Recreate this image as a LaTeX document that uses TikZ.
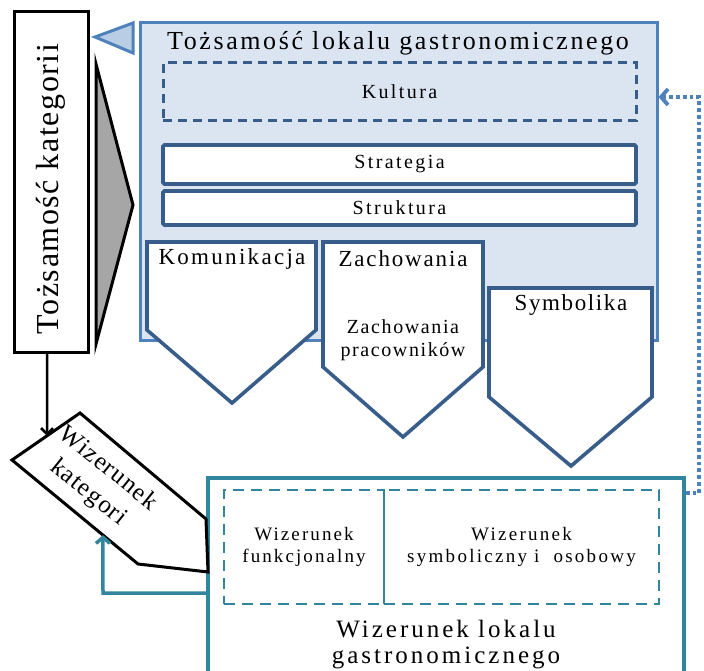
\documentclass[tikz,border=0pt]{standalone}
\usepackage{fontspec}
\setmainfont{Liberation Serif}
\usetikzlibrary{arrows.meta,calc}
\definecolor{lightfill}{HTML}{DBE5F1}
\definecolor{midblue}{HTML}{4F81BD}
\definecolor{darkblue}{HTML}{385D8A}
\definecolor{tealc}{HTML}{31859C}
\definecolor{grayfill}{HTML}{A6A6A6}
\definecolor{trifill}{HTML}{B9CDE5}
\newcommand{\fs}[3]{\fontsize{#1}{#2}\selectfont\addfontfeatures{LetterSpace=#3}}
\begin{document}
\begin{tikzpicture}[x=1pt,y=-1pt,
  blackbox/.style={draw=black,line width=3pt,fill=white,inner sep=0pt},
  bigbox/.style={draw=midblue,line width=3pt,fill=lightfill,inner sep=0pt},
  bar/.style={draw=darkblue,line width=3.6pt,fill=white,rounded corners=1.5pt,inner sep=0pt},
  dashbox/.style={draw=darkblue,line width=3pt,dash pattern=on 9pt off 6pt,inner sep=0pt},
  tealbox/.style={draw=tealc,line width=3.6pt,inner sep=0pt},
  tealdash/.style={draw=tealc,line width=2.5pt,dash pattern=on 11pt off 7pt,inner sep=0pt},
  penta/.style={draw=darkblue,line width=3.6pt,fill=white,line join=miter},
  lbl/.style={inner sep=0pt,align=center},
]
\useasboundingbox (0,0) rectangle (704,671);

% left vertical box
\node[blackbox,minimum width=74pt,minimum height=340pt] (tk) at (51,182) {};
\node[lbl,rotate=90,font=\fs{32}{36}{5}] (tkt) at (51,189) {Tożsamość kategorii};

% gray triangle and small blue triangle
\draw[fill=grayfill,draw=black,line width=3pt,line join=miter] (96,64) -- (133,205) -- (96,344) -- cycle;
\draw[fill=trifill,draw=midblue,line width=3pt,line join=miter] (95,37) -- (133,23) -- (133,53) -- cycle;

% big identity box
\node[bigbox,minimum width=517pt,minimum height=317pt] (tl) at (398.5,181.5) {};
\node[lbl,font=\fs{26}{30}{10}] (tlt) at (398,43) {Tożsamość lokalu gastronomicznego};

\node[dashbox,minimum width=473pt,minimum height=58pt] (ku) at (399.5,92) {};
\node[lbl,font=\fs{20}{24}{12}] (kut) at (ku.center) {Kultura};

\node[bar,minimum width=473pt,minimum height=39pt] (st) at (399.5,164.5) {};
\node[lbl,font=\fs{20}{24}{12}] (stt) at (st.center) {Strategia};
\node[bar,minimum width=473pt,minimum height=34pt] (sk) at (399.5,208) {};
\node[lbl,font=\fs{20}{24}{12}] (skt) at (sk.center) {Struktura};

% pentagons
\draw[penta] (147,242) -- (316,242) -- (316,330) -- (232,403) -- (147,330) -- cycle;
\node[lbl,font=\fs{23}{27}{10}] (ko) at (232,259) {Komunikacja};
\draw[penta] (323,242) -- (483,242) -- (483,367) -- (403,437) -- (323,367) -- cycle;
\node[lbl,font=\fs{23}{27}{8}] (za) at (403,259) {Zachowania};
\node[lbl,font=\fs{20}{23}{8}] (zp) at (403,340) {Zachowania\\pracowników};
\draw[penta] (489,288) -- (652,288) -- (652,397) -- (571,466) -- (489,397) -- cycle;
\node[lbl,font=\fs{23}{27}{7}] (sy) at (571,305) {Symbolika};

% image of restaurant box
\begin{scope}
\clip (0,0) rectangle (704,671);
\node[tealbox,minimum width=476pt,minimum height=220pt] (wl) at (446,588) {};
\end{scope}
\node[tealdash,minimum width=160pt,minimum height=114pt] (wf) at (304,547) {};
\node[tealdash,minimum width=275pt,minimum height=114pt] (ws) at (521.5,547) {};
\node[lbl,font=\fs{19}{22}{11}] (wft) at (wf.center) {Wizerunek\\funkcjonalny};
\node[lbl,font=\fs{19}{22}{12}] (wst) at (ws.center) {Wizerunek\\symboliczny i \ osobowy};
\node[lbl,font=\fs{25}{26}{12}] (wlt) at (446,645) {Wizerunek lokalu\\gastronomicznego};

% category image pentagon
\coordinate (k1) at (12,460);
\coordinate (k2) at (80,413);
\coordinate (k3) at (206,519);
\coordinate (k4) at (208,572);
\coordinate (k5) at (138,564);
\draw[draw=black,line width=3pt,fill=white,line join=miter] (k1) -- (k2) -- (k3) -- (k4) -- (k5) -- cycle;
\node[lbl,rotate=-39,font=\fs{25}{31}{5}] (wkt) at (98,481) {Wizerunek\\kategori};

% connectors
\draw[black,line width=2.5pt,-{Straight Barb[length=6pt,width=12pt]}] (tk.south -| 47,0) -- ($(k1)!0.515!(k2)$);
\draw[tealc,line width=3.5pt,-{Straight Barb[length=6pt,width=14pt]}] (wl.west |- 0,593) -- (103,593) -- ($(k1)!0.722!(k5)$);
\coordinate (dc) at (699,493);
\draw[midblue,line width=3.8pt,dash pattern=on 3.8pt off 3pt,-{Straight Barb[length=7pt,width=16pt]}] (wl.east |- dc) -- (dc) -- (dc |- 0,97) -- (tl.east |- 0,97);
\end{tikzpicture}
\end{document}
